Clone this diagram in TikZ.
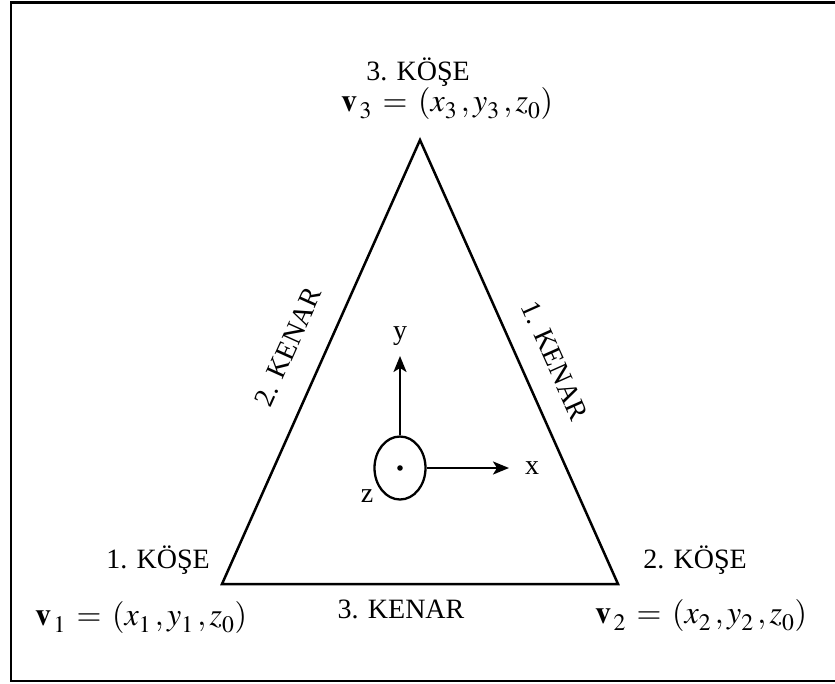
\documentclass[tikz,border=0pt]{standalone}
\usepackage{mathptmx}
\usepackage{fontspec}
\setmainfont{Liberation Serif}
\usetikzlibrary{arrows.meta,shapes.geometric}
\newcommand{\alt}[1]{_{\raisebox{-3pt}{$\scriptstyle #1$}}}
\tikzset{
  cerceve/.style={line width=2.7pt},
  kenar/.style={line width=2.5pt, line join=miter},
  eksen/.style={-{Stealth[length=16pt, width=13pt, inset=4pt]}, line width=2.3pt},
  etiket/.style={font=\fontsize{28}{32}\selectfont, inner sep=0pt},
  denklem/.style={font=\fontsize{32}{36}\selectfont, inner sep=0pt, anchor=base},
}

\begin{document}
\begin{tikzpicture}[x=1pt, y=-1pt]
\useasboundingbox (0,0) rectangle (835,683);
\clip (0,0) rectangle (835,683);
\draw[cerceve] (11,2.7) rectangle (850,681);

\coordinate (k1) at (222,584);
\coordinate (k2) at (618,584);
\coordinate (k3) at (420,140);
\draw[kenar] (k1) -- (k2) -- (k3) -- cycle;

\node[etiket, anchor=base] (kose3) at (418,80) {3. KÖŞE};
\node[denklem] (v3) at (447,111) {$\mathbf{v}\alt{\,3} \,=\, (x\alt{3}\,, y\alt{3}\,, z\alt{0})$};
\node[etiket, anchor=base] (kose1) at (158,568) {1. KÖŞE};
\node[denklem] (v1) at (141,625) {$\mathbf{v}\alt{\,1} \,=\, (x\alt{1}\,, y\alt{1}\,, z\alt{0})$};
\node[etiket, anchor=base] (kose2) at (695,568) {2. KÖŞE};
\node[denklem] (v2) at (701,623) {$\mathbf{v}\alt{\,2} \,=\, (x\alt{2}\,, y\alt{2}\,, z\alt{0})$};

\node[etiket, rotate=65.8] (kenar2) at (288,347) {2. KENAR};
\node[etiket, rotate=-65.9] (kenar1) at (555,361) {1. KENAR};
\node[etiket, anchor=base] (kenar3) at (401,618) {3. KENAR};

% z ekseni (sayfadan disari)
\node[draw, ellipse, line width=2.3pt, minimum width=51pt, minimum height=63pt, inner sep=0pt] (eks) at (400,468) {};
\fill (eks.center) circle (2.8);
\coordinate (yuc) at (400,356);
\coordinate (xuc) at (509,468);
\draw[eksen] (eks.north) -- (yuc);
\draw[eksen] (eks.east) -- (xuc);
\node[etiket] (ylbl) at (400,336) {y};
\node[etiket] (xlbl) at (532,468) {x};
\node[etiket] (zlbl) at (367,496) {z};
\end{tikzpicture}
\end{document}
